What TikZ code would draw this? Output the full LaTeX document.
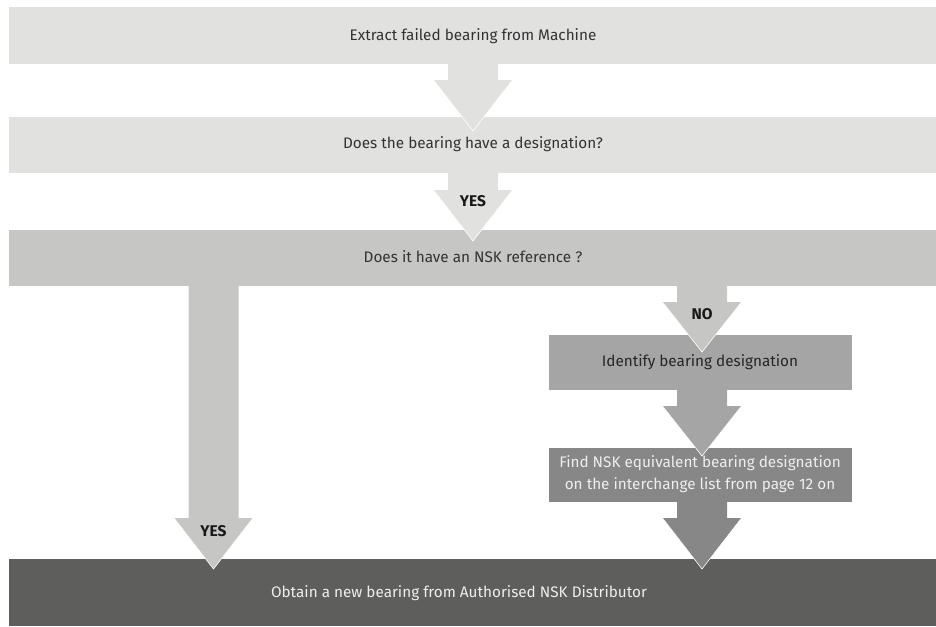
\documentclass[tikz,border=0pt]{standalone}
\usepackage{fontspec}
\setmainfont{Fira Sans}
\definecolor{cA}{HTML}{E1E2E0}
\definecolor{cB}{HTML}{C6C7C5}
\definecolor{cC}{HTML}{A5A5A5}
\definecolor{cD}{HTML}{878787}
\definecolor{cE}{HTML}{5E5E5C}
\definecolor{tdark}{HTML}{333333}
\definecolor{tlight}{HTML}{EEEEEE}
\newcommand\blockarrow[5]{%
  \fill[#1] (#2-25,#3) -- (#2+25,#3) -- (#2+25,#4) -- (#2+39.5,#4) -- (#2,#5) -- (#2-39.5,#4) -- (#2-25,#4) -- cycle;
  \draw[white, line width=0.6pt] (#2+39.5,#4) -- (#2,#5) -- (#2-39.5,#4);
}
\tikzset{
  box/.style={rectangle, fill=#1, draw=white, line width=0.4pt, inner sep=0pt, outer sep=0pt, anchor=north west},
  btext/.style={font=\fontsize{15.3}{22}\selectfont, text=tdark, align=center},
  wtext/.style={font=\fontsize{15.3}{22}\selectfont, text=tlight, align=center},
  lbl/.style={font=\fontsize{15.5}{18}\selectfont\bfseries, text=black!90, inner sep=0pt},
}
\begin{document}
\begin{tikzpicture}[x=1pt,y=-1pt]
\useasboundingbox (0,0) rectangle (936,626);
% boxes
\node[box=cA, minimum width=928pt, minimum height=58pt] (b1) at (8,6) {};
\node[box=cA, minimum width=928pt, minimum height=57pt] (b2) at (8,116) {};
\node[box=cB, minimum width=928pt, minimum height=57pt] (b3) at (8,229) {};
\node[box=cC, minimum width=304pt, minimum height=56pt] (b4) at (548,334) {};
\node[box=cD, minimum width=304pt, minimum height=55pt] (b5) at (548,447) {};
\node[box=cE, minimum width=928pt, minimum height=68pt] (b6) at (8,558.5) {};
% arrows
\blockarrow{cA}{473}{64}{80}{131}
\blockarrow{cA}{473}{173}{190}{241}
\blockarrow{cB}{213.5}{285.5}{518}{569}
\blockarrow{cB}{702}{285.5}{302}{352}
\blockarrow{cC}{702}{389.5}{406}{456}
\blockarrow{cD}{702}{501.5}{518}{569}
% texts
\node[btext] (t1) at (473,36) {Extract failed bearing from Machine};
\node[btext] (t2) at (473,144.5) {Does the bearing have a designation?};
\node[btext] (t3) at (473,257) {Does it have an NSK reference ?};
\node[btext, text=black!85] (t4) at (700,362) {Identify bearing designation};
\node[wtext] (t5) at (700,474) {Find NSK equivalent bearing designation\\on the interchange list from page 12 on};
\node[wtext] (t6) at (459,593) {Obtain a new bearing from Authorised NSK Distributor};
\node[lbl] (l1) at (473,201) {YES};
\node[lbl] (l2) at (702,314) {NO};
\node[lbl] (l3) at (213.5,531) {YES};
\end{tikzpicture}
\end{document}
